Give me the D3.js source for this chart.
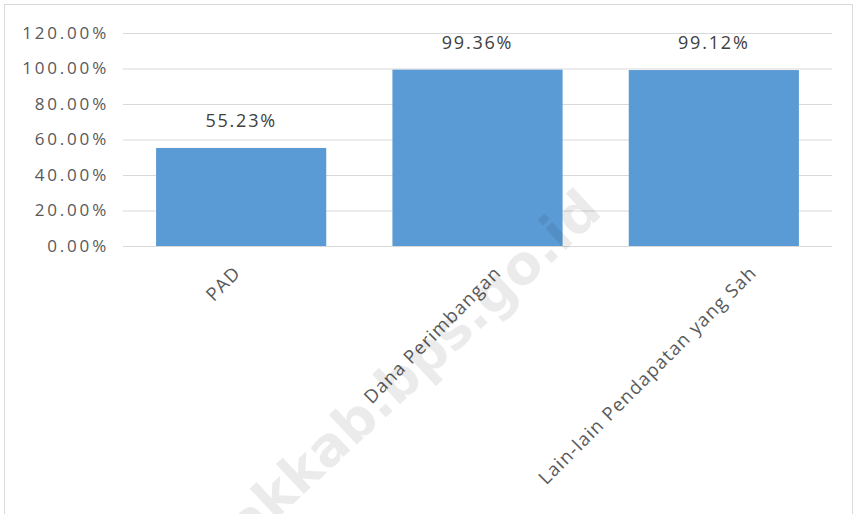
<!DOCTYPE html>
<html lang="id">
<head>
<meta charset="UTF-8">
<title>Realisasi Pendapatan</title>
<script src="https://d3js.org/d3.v7.min.js"></script>
<style>
    body { margin: 0; background: #ffffff; }
    svg { display: block; }
    .tick-y { font-family: "Open Sans", sans-serif; font-size: 17px; letter-spacing: 2.8px; fill: #595959; }
    .nilai { font-family: "Open Sans", sans-serif; font-size: 18px; letter-spacing: 1.8px; fill: #404040; }
    .kategori { font-family: "Open Sans", sans-serif; font-size: 18.5px; letter-spacing: 1.2px; fill: #595959; }
    .watermark { font-family: "DejaVu Sans", sans-serif; font-weight: bold; font-size: 54px; fill: #000; fill-opacity: 0.08; }
</style>
</head>
<body>
<svg width="860" height="514"></svg>
<script>
    // data
    const kategori = ["PAD", "Dana Perimbangan", "Lain-lain Pendapatan yang Sah"];
    const realisasi = [0.5523, 0.9936, 0.9912];
    const tickY = [0, 0.2, 0.4, 0.6, 0.8, 1.0, 1.2];

    const svg = d3.select("svg");
    const margin = { left: 123, right: 27, top: 33 };
    const width = 860;

    // bingkai chart
    svg.append("rect")
        .attr("x", 4.5).attr("y", 4.5)
        .attr("width", 848).attr("height", 520)
        .attr("fill", "#fff")
        .attr("stroke", "#d9d9d9");

    const x = d3.scaleBand()
        .domain(kategori)
        .range([margin.left, width - margin.right - 1])
        .paddingInner(0.28)
        .paddingOuter(0.14);

    const y = d3.scaleLinear()
        .domain([0, 1.2])
        .range([246, margin.top]);

    // gridlines + label sumbu y
    const sumbuY = d3.axisLeft(y)
        .tickValues(tickY)
        .tickSize(-(width - margin.right - 1 - margin.left))
        .tickPadding(14)
        .tickFormat(d => (d * 100).toFixed(2) + "%");

    const gY = svg.append("g")
        .attr("transform", `translate(${margin.left},0)`)
        .call(sumbuY);
    gY.select(".domain").remove();
    gY.selectAll("line").attr("stroke", "#d9d9d9");
    gY.selectAll("text").attr("class", "tick-y").attr("fill", null);
    gY.attr("font-family", null).attr("font-size", null);

    // batang
    svg.selectAll(".batang")
        .data(realisasi)
        .join("rect")
        .attr("class", "batang")
        .attr("x", (d, i) => x(kategori[i]))
        .attr("width", x.bandwidth())
        .attr("y", d => y(d))
        .attr("height", d => y(0) - y(d))
        .attr("fill", "#5b9bd5");

    // label nilai
    svg.selectAll(".nilai")
        .data(realisasi)
        .join("text")
        .attr("class", "nilai")
        .attr("x", (d, i) => x(kategori[i]) + x.bandwidth() / 2)
        .attr("y", d => y(d) - 21)
        .attr("text-anchor", "middle")
        .text(d => (d * 100).toFixed(2) + "%");

    // label kategori (miring -45 derajat)
    const lab = svg.selectAll(".kategori")
        .data(kategori)
        .join("text")
        .attr("class", "kategori")
        .attr("text-anchor", "end")
        .text(d => d);
    lab.attr("transform", function(d) {
        const L = this.getComputedTextLength();
        const cx = x(d) + x.bandwidth() / 2 + 0.167 * L - 6;
        return `translate(${cx},274) rotate(-45)`;
    });

    // watermark
    svg.append("text")
        .attr("class", "watermark")
        .attr("text-anchor", "end")
        .attr("transform", "translate(604,214) rotate(-43)")
        .text("siakkab.bps.go.id");
</script>
</body>
</html>
